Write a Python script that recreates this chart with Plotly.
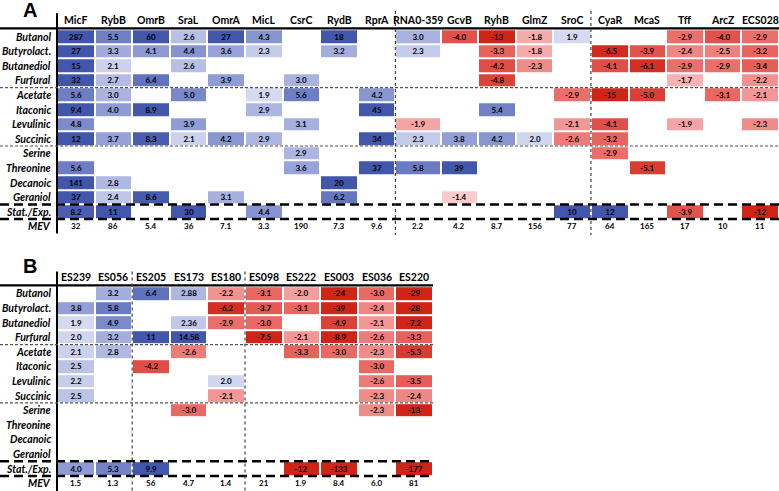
import math
import numpy as np
import plotly.graph_objects as go

# ---------------- data ----------------
row_labels = ["Butanol", "Butyrolact.", "Butanediol", "Furfural", "Acetate", "Itaconic",
              "Levulinic", "Succinic", "Serine", "Threonine", "Decanoic", "Geraniol", "Stat./Exp."]

A_cols = ["MicF", "RybB", "OmrB", "SraL", "OmrA", "MicL", "CsrC", "RydB", "RprA", "RNA0-359",
          "GcvB", "RyhB", "GlmZ", "SroC", "CyaR", "McaS", "Tff", "ArcZ", "ECS028"]

A_vals = [
    ["287", "5.5", "60", "2.6", "27", "4.3", "", "18", "", "3.0", "-4.0", "-13", "-1.8", "1.9", "", "", "-2.9", "-4.0", "-2.9"],
    ["27", "3.3", "4.1", "4.4", "3.6", "2.3", "", "3.2", "", "2.3", "", "-3.3", "-1.8", "", "-6.5", "-3.9", "-2.4", "-2.5", "-3.2"],
    ["15", "2.1", "", "2.6", "", "", "", "", "", "", "", "-4.2", "-2.3", "", "-4.1", "-6.1", "-2.9", "-2.9", "-3.4"],
    ["32", "2.7", "6.4", "", "3.9", "", "3.0", "", "", "", "", "-4.8", "", "", "", "", "-1.7", "", "-2.2"],
    ["5.6", "3.0", "", "5.0", "", "1.9", "5.6", "", "4.2", "", "", "", "", "-2.9", "-15", "-5.0", "", "-3.1", "-2.1"],
    ["9.4", "4.0", "8.9", "", "", "2.9", "", "", "45", "", "", "5.4", "", "", "", "", "", "", ""],
    ["4.8", "", "", "3.9", "", "", "3.1", "", "", "-1.9", "", "", "", "-2.1", "-4.1", "", "-1.9", "", "-2.3"],
    ["12", "3.7", "8.3", "2.1", "4.2", "2.9", "", "", "34", "2.3", "3.8", "4.2", "2.0", "-2.6", "-3.2", "", "", "", ""],
    ["", "", "", "", "", "", "2.9", "", "", "", "", "", "", "", "-2.9", "", "", "", ""],
    ["5.6", "", "", "", "", "", "3.6", "", "37", "5.8", "39", "", "", "", "", "-5.1", "", "", ""],
    ["141", "2.8", "", "", "", "", "", "20", "", "", "", "", "", "", "", "", "", "", ""],
    ["37", "2.4", "8.6", "", "3.1", "", "", "6.2", "", "", "-1.4", "", "", "", "", "", "", "", ""],
    ["8.2", "11", "", "30", "", "4.4", "", "", "", "", "", "", "", "10", "12", "", "-3.9", "", "-12"],
]
A_mev = ["32", "86", "5.4", "36", "7.1", "3.3", "190", "7.3", "9.6", "2.2",
         "4.2", "8.7", "156", "77", "64", "165", "17", "10", "11"]

B_cols = ["ES239", "ES056", "ES205", "ES173", "ES180", "ES098", "ES222", "ES003", "ES036", "ES220"]
B_vals = [
    ["", "3.2", "6.4", "2.88", "-2.2", "-3.1", "-2.0", "-24", "-3.0", "-29"],
    ["3.8", "5.8", "", "", "-6.2", "-3.7", "-3.1", "-39", "-2.4", "-28"],
    ["1.9", "4.9", "", "2.36", "-2.9", "-3.0", "", "-4.9", "-2.1", "-7.2"],
    ["2.0", "3.2", "11", "14.58", "", "-7.5", "-2.1", "-8.9", "-2.6", "-3.3"],
    ["2.1", "2.8", "", "-2.6", "", "", "-3.3", "-3.0", "-2.3", "-5.3"],
    ["2.5", "", "-4.2", "", "", "", "", "", "-3.0", ""],
    ["2.2", "", "", "", "2.0", "", "", "", "-2.6", "-3.5"],
    ["2.5", "", "", "", "-2.1", "", "", "", "-2.3", "-2.4"],
    ["", "", "", "-3.0", "", "", "", "", "-2.3", "-13"],
    ["", "", "", "", "", "", "", "", "", ""],
    ["", "", "", "", "", "", "", "", "", ""],
    ["", "", "", "", "", "", "", "", "", ""],
    ["4.0", "5.3", "9.9", "", "", "", "-12", "-133", "", "-177"],
]
B_mev = ["1.5", "1.3", "56", "4.7", "1.4", "21", "1.9", "8.4", "6.0", "81"]

# ---------------- geometry / style ----------------
W, H = 779, 491
PITCH = 37.6      # px per column unit
ROWH = 14.6       # px per row unit
X0 = -57 / PITCH
XR = X0 + W / PITCH
YB = H / ROWH

A_TOP = 2.0
B_TOP = 19.6

FONT = "Lato"


def to_z(s):
    if s == "":
        return None
    v = float(s)
    if v > 0:
        t = (math.log(v) - math.log(1.5)) / (math.log(9.0) - math.log(1.5))
    else:
        t = (math.log(-v) - math.log(1.3)) / (math.log(7.0) - math.log(1.3))
    t = min(max(t, 0.03), 1.0)
    return t if v > 0 else -t


colorscale = [
    [0.0, "rgb(208,36,22)"],
    [0.25, "rgb(233,105,100)"],
    [0.499, "rgb(253,212,216)"],
    [0.5, "rgb(255,255,255)"],
    [0.501, "rgb(236,238,250)"],
    [0.75, "rgb(150,162,216)"],
    [1.0, "rgb(66,86,172)"],
]

A_w = [1.2 if c == "RNA0-359" else 1.0 for c in A_cols]
A_xe = np.concatenate([[0.0], np.cumsum(A_w)])
A_xc = (A_xe[:-1] + A_xe[1:]) / 2
B_xe = np.arange(len(B_cols) + 1, dtype=float)
B_xc = (B_xe[:-1] + B_xe[1:]) / 2

nrows = len(row_labels)

fig = go.Figure()


def add_panel(vals, xe, top):
    z = [[to_z(s) for s in row] for row in vals]
    z = [[(np.nan if v is None else v) for v in row] for row in z]
    ye = top + np.arange(nrows + 1, dtype=float)
    fig.add_trace(go.Heatmap(
        x=xe, y=ye, z=z, text=vals, texttemplate="%{text}",
        textfont=dict(family=FONT, size=8, color="black", weight="bold"),
        colorscale=colorscale, zmin=-1, zmax=1, showscale=False,
        xgap=2, ygap=2, hoverinfo="skip",
    ))


add_panel(A_vals, A_xe, A_TOP)
add_panel(B_vals, B_xe, B_TOP)

ann = []


def add_text(x, y, s, size, xanchor="center", italic=False, family=FONT):
    ann.append(dict(x=x, y=y, xref="x", yref="y", text=s, showarrow=False,
                    xanchor=xanchor, yanchor="middle", borderpad=0,
                    font=dict(family=family, size=size, color="black", weight="bold",
                              style="italic" if italic else "normal")))


for top, cols, xc, mev in [(A_TOP, A_cols, A_xc, A_mev), (B_TOP, B_cols, B_xc, B_mev)]:
    for c, x in zip(cols, xc):
        add_text(x, top - 0.62, c, 10.5)
    for i, r in enumerate(row_labels):
        add_text(-0.13, top + i + 0.5, r, 10.5, xanchor="right", italic=True)
    add_text(-0.13, top + nrows + 0.5, "MEV", 10.5, xanchor="right", italic=True)
    for m, x in zip(mev, xc):
        add_text(x, top + nrows + 0.5, m, 8)

add_text(X0 + 29.5 / PITCH, 0.66, "A", 20, family="Liberation Sans")
add_text(X0 + 29.5 / PITCH, 18.25, "B", 20, family="Liberation Sans")

shapes = []


def hline(y, x1, x2, width=2, dash="solid", color="black"):
    shapes.append(dict(type="line", xref="x", yref="y", x0=x1, x1=x2, y0=y, y1=y,
                       line=dict(color=color, width=width, dash=dash)))


def vline(x, y1, y2, width=2, dash="solid", color="black"):
    shapes.append(dict(type="line", xref="x", yref="y", x0=x, x1=x, y0=y1, y1=y2,
                       line=dict(color=color, width=width, dash=dash)))


# Panel A lines
hline(A_TOP - 0.05, X0, XR, width=2.2)
vline(0, 0.9, A_TOP + nrows + 1.0, width=2)
hline(A_TOP + 4, X0, XR, width=1.2, dash="3px,2px", color="#555")
hline(A_TOP + 8, X0, XR, width=1.2, dash="3px,2px", color="#555")
hline(A_TOP + 12, X0, XR, width=2.5, dash="9px,5px")
hline(A_TOP + 13, X0, XR, width=2.5, dash="9px,5px")
for k in [9, 14]:
    vline(A_xe[k], 0.75, A_TOP + nrows + 1.1, width=1.2, dash="3px,3px", color="#444")

# Panel B lines
hline(B_TOP - 0.05, X0, B_xe[-1], width=2.2)
vline(0, 18.6, YB, width=2)
hline(B_TOP + 4, X0, B_xe[-1], width=1.2, dash="3px,2px", color="#555")
hline(B_TOP + 8, X0, B_xe[-1], width=1.2, dash="3px,2px", color="#555")
hline(B_TOP + 12, X0, B_xe[-1], width=2.5, dash="9px,5px")
hline(B_TOP + 13, X0, B_xe[-1], width=2.5, dash="9px,5px")
for k in [2, 5]:
    vline(B_xe[k], 18.6, YB, width=1.2, dash="3px,3px", color="#444")

fig.update_layout(
    width=W, height=H, margin=dict(l=0, r=0, t=0, b=0),
    paper_bgcolor="white", plot_bgcolor="white",
    xaxis=dict(range=[X0, XR], visible=False, fixedrange=True),
    yaxis=dict(range=[YB, 0], visible=False, fixedrange=True),
    annotations=ann, shapes=shapes, showlegend=False,
)

fig.write_html(
    "out.html",
    config={"displayModeBar": False},
    post_script="document.body.style.margin='0px';document.body.style.overflow='hidden';",
)
